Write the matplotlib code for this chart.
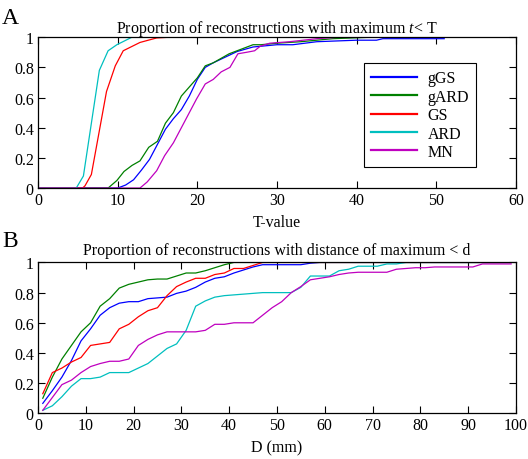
import numpy as np
import matplotlib.pyplot as plt
import matplotlib

matplotlib.rcParams['font.family'] = ['Liberation Serif', 'DejaVu Serif']
matplotlib.rcParams['mathtext.fontset'] = 'custom'
matplotlib.rcParams['mathtext.rm'] = 'Liberation Serif'
matplotlib.rcParams['mathtext.it'] = 'Liberation Serif:italic'

methods = ['gGS', 'gARD', 'GS', 'ARD', 'MN']
colors = {'gGS': (0, 0, 1), 'gARD': (0, 0.5, 0), 'GS': (1, 0, 0),
          'ARD': (0, 0.75, 0.75), 'MN': (0.75, 0, 0.75)}

# --- panel A: proportion with maximum t < T
t_gGS = [0, 10, 11, 12, 13, 14, 15, 16, 17, 18, 19, 20, 21, 22, 23, 24, 25, 26, 27, 28, 30, 32, 35, 40, 42.5, 43.3, 51]
p_gGS = [0, 0, 0.02, 0.055, 0.12, 0.19, 0.29, 0.39, 0.46, 0.52, 0.61, 0.72, 0.80, 0.83, 0.855, 0.88, 0.905, 0.92, 0.935, 0.94, 0.95, 0.95, 0.97, 0.98, 0.98, 0.99, 0.99]

t_gARD = [0, 8.8, 9.9, 10.8, 11.8, 12.8, 13.9, 15, 16, 17, 18, 19, 20, 21, 22, 23, 24, 25, 26, 27, 28, 30, 33, 37, 42, 51]
p_gARD = [0, 0, 0.05, 0.11, 0.15, 0.18, 0.27, 0.31, 0.43, 0.50, 0.61, 0.67, 0.73, 0.81, 0.83, 0.86, 0.89, 0.91, 0.93, 0.95, 0.95, 0.96, 0.97, 0.99, 1.0, 1.0]

t_GS = [0, 5.6, 5.9, 6.7, 8.6, 9.7, 10.7, 12.8, 14.9, 16.6, 51]
p_GS = [0, 0, 0.015, 0.09, 0.64, 0.81, 0.91, 0.965, 0.995, 1.0, 1.0]

t_ARD = [0, 4.8, 5.7, 7.7, 8.8, 9.9, 11.8, 51]
p_ARD = [0, 0, 0.08, 0.78, 0.91, 0.95, 1.0, 1.0]

t_MN = [0, 12.8, 13.7, 14.9, 15.9, 17, 18, 19.1, 19.9, 21, 22, 23, 24.1, 25.1, 26.2, 27.2, 27.9, 29.1, 31.6, 35, 37.9, 51]
p_MN = [0, 0, 0.04, 0.115, 0.215, 0.30, 0.40, 0.51, 0.59, 0.69, 0.72, 0.77, 0.80, 0.89, 0.90, 0.91, 0.94, 0.96, 0.97, 0.99, 1.0, 1.0]

# --- panel B: proportion with distance of maximum < d
d_gGS = [1, 3, 5, 7, 9, 11, 13, 15, 17, 19, 21, 23, 25, 27, 29, 31, 33, 35, 37, 39, 41, 43, 45, 47, 49, 51, 53, 55, 57, 59, 99]
q_gGS = [0.066, 0.15, 0.24, 0.35, 0.48, 0.56, 0.65, 0.70, 0.73, 0.74, 0.74, 0.76, 0.765, 0.77, 0.795, 0.81, 0.835, 0.87, 0.895, 0.905, 0.93, 0.95, 0.97, 0.985, 0.985, 0.985, 0.985, 0.985, 0.995, 1.0, 1.0]

d_gARD = [1, 3, 5, 7, 9, 11, 13, 15, 17, 19, 21, 23, 25, 27, 29, 31, 33, 35, 37, 39, 41, 99]
q_gARD = [0.10, 0.24, 0.36, 0.45, 0.54, 0.60, 0.71, 0.76, 0.83, 0.855, 0.87, 0.885, 0.89, 0.89, 0.91, 0.93, 0.93, 0.945, 0.965, 0.985, 1.0, 1.0]

d_GS = [1, 3, 5, 7, 9, 11, 13, 15, 17, 19, 21, 23, 25, 27, 29, 31, 33, 35, 37, 39, 41, 43, 45, 47, 99]
q_GS = [0.13, 0.27, 0.30, 0.34, 0.37, 0.45, 0.46, 0.47, 0.56, 0.59, 0.64, 0.68, 0.70, 0.78, 0.84, 0.87, 0.895, 0.895, 0.92, 0.93, 0.96, 0.96, 0.98, 1.0, 1.0]

d_ARD = [1, 3, 5, 7, 9, 11, 13, 15, 17, 19, 21, 23, 25, 27, 29, 31, 33, 35, 37, 39, 41, 43, 45, 47, 49, 51, 53, 55, 57, 59, 61, 63, 65, 67, 69, 71, 73, 75, 77, 99]
q_ARD = [0.02, 0.05, 0.11, 0.18, 0.23, 0.23, 0.24, 0.27, 0.27, 0.27, 0.30, 0.33, 0.38, 0.43, 0.46, 0.55, 0.71, 0.745, 0.77, 0.78, 0.785, 0.79, 0.795, 0.80, 0.80, 0.80, 0.80, 0.835, 0.91, 0.91, 0.91, 0.945, 0.955, 0.975, 0.975, 0.975, 0.99, 0.99, 1.0, 1.0]

d_MN = [1, 3, 5, 7, 9, 11, 13, 15, 17, 19, 21, 23, 25, 27, 29, 31, 33, 35, 37, 39, 41, 43, 45, 47, 49, 51, 53, 55, 57, 59, 61, 63, 65, 67, 69, 71, 73, 75, 77, 79, 81, 83, 85, 87, 89, 91, 93, 95, 97, 99]
q_MN = [0.02, 0.105, 0.19, 0.22, 0.27, 0.31, 0.33, 0.345, 0.345, 0.36, 0.45, 0.49, 0.52, 0.54, 0.54, 0.54, 0.54, 0.55, 0.59, 0.59, 0.60, 0.60, 0.60, 0.65, 0.70, 0.74, 0.80, 0.84, 0.885, 0.895, 0.905, 0.92, 0.93, 0.935, 0.935, 0.935, 0.935, 0.955, 0.96, 0.965, 0.965, 0.97, 0.97, 0.97, 0.97, 0.97, 0.99, 0.99, 0.99, 0.99]

curves_a = {'gGS': (t_gGS, p_gGS), 'gARD': (t_gARD, p_gARD), 'GS': (t_GS, p_GS),
            'ARD': (t_ARD, p_ARD), 'MN': (t_MN, p_MN)}
curves_b = {'gGS': (d_gGS, q_gGS), 'gARD': (d_gARD, q_gARD), 'GS': (d_GS, q_GS),
            'ARD': (d_ARD, q_ARD), 'MN': (d_MN, q_MN)}

yticks = [0, 0.2, 0.4, 0.6, 0.8, 1]
ytick_labels = ['0', '0.2', '0.4', '0.6', '0.8', '1']
fs = 11.5


def style_axes(ax, xmax, xstep):
    ax.set_xlim(0, xmax)
    ax.set_ylim(0, 1)
    ax.set_xticks(np.arange(0, xmax + 1, xstep))
    ax.set_yticks(yticks)
    ax.set_yticklabels(ytick_labels)
    ax.tick_params(direction='in', top=True, right=True, length=5, width=0.8,
                   labelsize=fs, pad=3)
    for s in ax.spines.values():
        s.set_linewidth(0.9)


fig = plt.figure(figsize=(5.28, 4.6), dpi=100)
ax_a = fig.add_axes([0.072, 0.589, 0.905, 0.328])
ax_b = fig.add_axes([0.072, 0.0993, 0.905, 0.328])

for m in methods:
    x, y = curves_a[m]
    ax_a.plot(x, y, color=colors[m], lw=0.9, label=m)
    x, y = curves_b[m]
    ax_b.plot(x, y, color=colors[m], lw=0.9, label=m)

style_axes(ax_a, 60, 10)
style_axes(ax_b, 100, 10)

ax_a.set_title('Proportion of reconstructions with maximum $t$< T', fontsize=fs, pad=4)
ax_b.set_title('Proportion of reconstructions with distance of maximum < d', fontsize=fs, pad=6)
ax_a.set_xlabel('T-value', fontsize=fs, labelpad=4)
ax_b.set_xlabel('D (mm)', fontsize=fs, labelpad=4)

leg = ax_a.legend(loc='upper left', bbox_to_anchor=(0.682, 0.828), borderaxespad=0,
                  fontsize=fs, frameon=True, fancybox=False, framealpha=1, edgecolor='black',
                  handlelength=2.9, labelspacing=0.15, borderpad=0.45, handletextpad=0.65)
leg.get_frame().set_linewidth(0.8)
for line in leg.get_lines():
    line.set_linewidth(1.6)

fig.text(0.004, 0.96, 'A', fontsize=17, va='center', ha='left')
fig.text(0.004, 0.476, 'B', fontsize=17, va='center', ha='left')

plt.savefig('out.png', dpi=100)
